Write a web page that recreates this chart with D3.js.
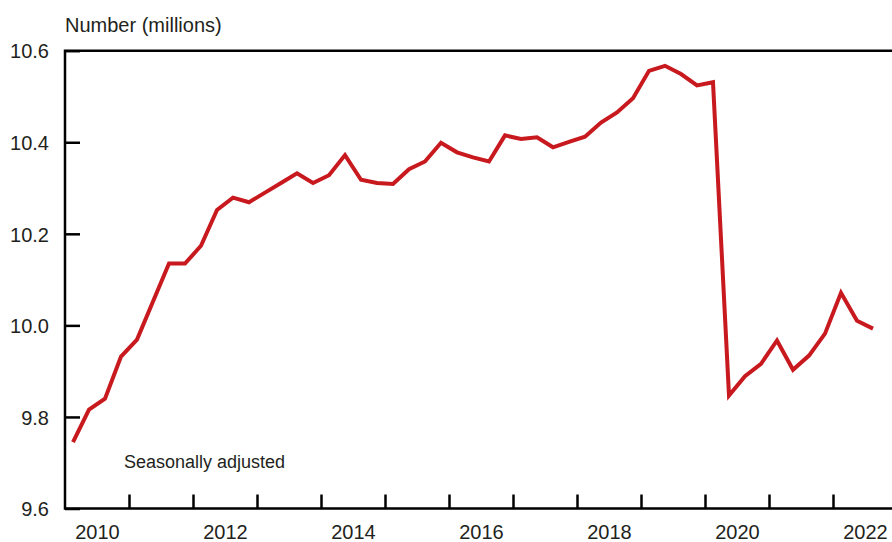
<!DOCTYPE html>
<html>
<head>
<meta charset="utf-8">
<script src="https://cdn.jsdelivr.net/npm/d3@7/dist/d3.min.js"></script>
<style>
  html, body { margin: 0; padding: 0; background: #fff; }
  svg { display: block; font-family: "Liberation Sans", Arial, Helvetica, sans-serif; }
</style>
</head>
<body>
<svg id="chart" width="892" height="542"></svg>
<script>
// Quarterly data, 2010 Q1 – 2022 Q3 (number, millions, seasonally adjusted)
const quarters = [
  "2010Q1","2010Q2","2010Q3","2010Q4",
  "2011Q1","2011Q2","2011Q3","2011Q4",
  "2012Q1","2012Q2","2012Q3","2012Q4",
  "2013Q1","2013Q2","2013Q3","2013Q4",
  "2014Q1","2014Q2","2014Q3","2014Q4",
  "2015Q1","2015Q2","2015Q3","2015Q4",
  "2016Q1","2016Q2","2016Q3","2016Q4",
  "2017Q1","2017Q2","2017Q3","2017Q4",
  "2018Q1","2018Q2","2018Q3","2018Q4",
  "2019Q1","2019Q2","2019Q3","2019Q4",
  "2020Q1","2020Q2","2020Q3","2020Q4",
  "2021Q1","2021Q2","2021Q3","2021Q4",
  "2022Q1","2022Q2","2022Q3"
];
const values = [
  9.745, 9.816, 9.840, 9.932,
  9.969, 10.052, 10.135, 10.135,
  10.174, 10.252, 10.279, 10.269,
  10.290, 10.311, 10.332, 10.311,
  10.328, 10.372, 10.318, 10.311,
  10.309, 10.341, 10.358, 10.399,
  10.378, 10.367, 10.358, 10.415,
  10.407, 10.411, 10.389, 10.401,
  10.412, 10.443, 10.465, 10.496,
  10.556, 10.567, 10.549, 10.524,
  10.531, 9.847, 9.889, 9.916,
  9.967, 9.903, 9.934, 9.982,
  10.071, 10.010, 9.993
];
const yTicks = [9.6, 9.8, 10.0, 10.2, 10.4, 10.6];
const yearTicks = [2011, 2012, 2013, 2014, 2015, 2016, 2017, 2018, 2019, 2020, 2021, 2022];
const yearLabels = [2010, 2012, 2014, 2016, 2018, 2020, 2022];
const yAxisTitle = "Number (millions)";
const note = "Seasonally adjusted";

(function () {
  const svg = d3.select("#chart");
  const mLeft = 65, mRight = 892, mTop = 50.7, mBottom = 508.5;
  const textColor = "#231f20";
  const lineColor = "#c8191f";

  const x = d3.scaleLinear().domain([2010, 2023]).range([mLeft, mLeft + 13 * 64]);
  const y = d3.scaleLinear().domain([9.6, 10.6]).range([mBottom, mTop]);

  const data = quarters.map((q, i) => {
    const yr = +q.slice(0, 4), qt = +q.slice(5);
    return { t: yr + (qt - 0.5) / 4, v: values[i] };
  });

  // Y axis (ticks pointing inward)
  const yAxis = svg.append("g")
    .attr("transform", `translate(${mLeft},0)`)
    .call(d3.axisLeft(y).tickValues(yTicks).tickSize(-15).tickPadding(16)
      .tickFormat(d3.format(".1f")));
  yAxis.select(".domain").remove();
  yAxis.selectAll(".tick line").attr("stroke", "#000").attr("stroke-width", 2.5);
  yAxis.selectAll(".tick text").attr("font-size", 20).attr("fill", textColor).attr("dy", "0.36em");

  // X axis tick marks (year boundaries, pointing up)
  const xAxis = svg.append("g")
    .attr("transform", `translate(0,${mBottom})`)
    .call(d3.axisBottom(x).tickValues(yearTicks).tickSize(-14).tickFormat(""));
  xAxis.select(".domain").remove();
  xAxis.selectAll(".tick line").attr("stroke", "#000").attr("stroke-width", 2.5);

  // X axis labels (centred on year)
  const xLab = svg.append("g")
    .attr("transform", `translate(0,${mBottom})`)
    .call(d3.axisBottom(x).tickValues(yearLabels.map(d => d + 0.5)).tickSize(0).tickPadding(16)
      .tickFormat(d => String(Math.floor(d))));
  xLab.select(".domain").remove();
  xLab.selectAll(".tick text").attr("font-size", 20).attr("fill", textColor);

  // Frame: left, top, bottom
  svg.append("path")
    .attr("d", `M${mRight},${mTop}H${mLeft}V${mBottom}H${mRight}`)
    .attr("fill", "none").attr("stroke", "#000").attr("stroke-width", 2.5);

  // Line
  svg.append("path")
    .datum(data)
    .attr("fill", "none")
    .attr("stroke", lineColor)
    .attr("stroke-width", 4)
    .attr("stroke-linejoin", "miter")
    .attr("d", d3.line().x(d => x(d.t)).y(d => y(d.v)));

  // Titles
  svg.append("text")
    .attr("x", mLeft).attr("y", 31.5)
    .attr("font-size", 20).attr("fill", textColor)
    .text(yAxisTitle);

  svg.append("text")
    .attr("x", 124).attr("y", 467.5)
    .attr("font-size", 18).attr("fill", textColor)
    .text(note);
})();
</script>
</body>
</html>
